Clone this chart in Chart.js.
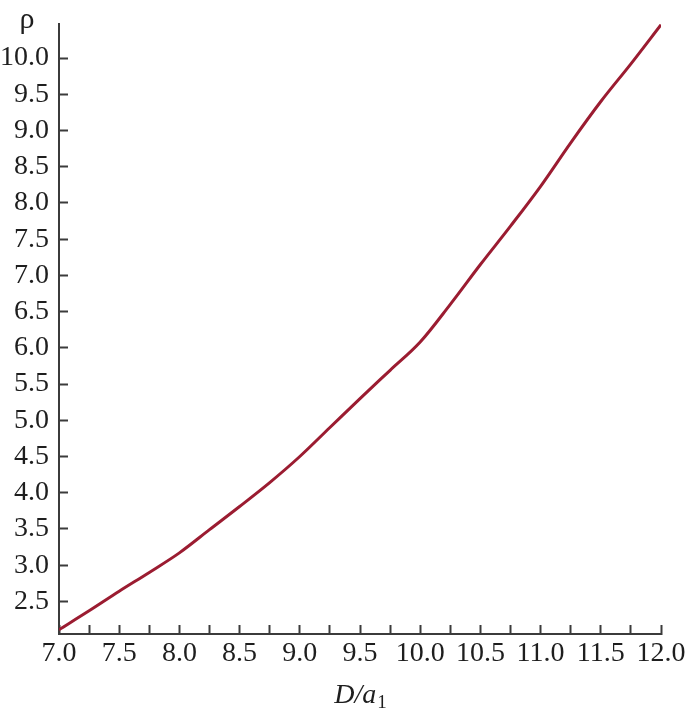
<!DOCTYPE html>
<html>
<head>
<meta charset="utf-8">
<script src="https://cdn.jsdelivr.net/npm/chart.js@4.4.1/dist/chart.umd.min.js"></script>
<style>
  html, body { margin: 0; padding: 0; background: #fff; }
  #wrap { width: 685px; height: 713px; }
</style>
</head>
<body>
<div id="wrap"><canvas id="chart"></canvas></div>
<script>
// values
const dRatio = [7.0, 7.25, 7.5, 7.75, 8.0, 8.25, 8.5, 8.75, 9.0, 9.25, 9.5,
  9.75, 10.0, 10.25, 10.5, 10.75, 11.0, 11.25, 11.5, 11.75, 12.0];
const rho = [2.11, 2.37, 2.64, 2.90, 3.17, 3.49, 3.81, 4.14, 4.50, 4.90, 5.30,
  5.69, 6.08, 6.60, 7.15, 7.68, 8.23, 8.83, 9.40, 9.92, 10.46];
const xTickLabels = ["7.0", "7.5", "8.0", "8.5", "9.0", "9.5", "10.0", "10.5", "11.0", "11.5", "12.0"];
const yTickLabels = ["2.5", "3.0", "3.5", "4.0", "4.5", "5.0", "5.5", "6.0", "6.5", "7.0", "7.5",
  "8.0", "8.5", "9.0", "9.5", "10.0"];

const axisColor = "#3b3b3b";
const textColor = "#1e1e1e";
const serif = "'Liberation Serif', 'Times New Roman', serif";

// axis titles: rho on top of the y axis, D/a1 below the x axis
const axisTitles = {
  id: "axisTitles",
  afterDraw(chart) {
    const c = chart.ctx;
    const area = chart.chartArea;
    c.save();
    c.fillStyle = textColor;
    c.textBaseline = "alphabetic";
    c.textAlign = "center";
    c.font = "30px " + serif;
    c.fillText("\u03C1", 27, 28);

    c.textAlign = "left";
    const main = "D/a";
    c.font = "italic 28px " + serif;
    const w1 = c.measureText(main).width;
    c.font = "19px " + serif;
    const w2 = c.measureText("1").width;
    const x0 = (area.left + area.right) / 2 - (w1 + w2) / 2;
    c.font = "italic 28px " + serif;
    c.fillText(main, x0, 703);
    c.font = "19px " + serif;
    c.fillText("1", x0 + w1 + 1, 708);
    c.restore();
  }
};

const ctx = document.getElementById("chart");

new Chart(ctx, {
  type: "line",
  data: {
    datasets: [
      {
        data: dRatio.map((d, i) => ({ x: d, y: rho[i] })),
        borderColor: "#9b1c31",
        borderWidth: 3,
        pointRadius: 0,
        tension: 0.4,
        cubicInterpolationMode: "monotone",
        fill: false,
      },
    ],
  },
  options: {
    animation: false,
    responsive: true,
    maintainAspectRatio: false,
    layout: { padding: { top: 24, right: 24, left: 0, bottom: 0 } },
    plugins: {
      legend: { display: false },
      tooltip: { enabled: false },
    },
    scales: {
      x: {
        type: "linear",
        min: 7,
        max: 12,
        afterFit: (s) => { s.height = 79; s.paddingLeft = 0; s.paddingRight = 0; },
        border: { display: true, color: axisColor, width: 2 },
        grid: {
          drawOnChartArea: false,
          drawTicks: true,
          tickLength: -9,
          tickWidth: 2,
          tickColor: axisColor,
        },
        ticks: {
          stepSize: 0.25,
          padding: 12,
          maxRotation: 0,
          autoSkip: false,
          color: textColor,
          font: { family: serif, size: 28 },
          callback: (v) => {
            const lbl = v.toFixed(1);
            return Number.isInteger(v * 2) && xTickLabels.includes(lbl) ? lbl : "";
          },
        },
      },
      y: {
        type: "linear",
        min: 2.05,
        max: 10.47,
        afterFit: (s) => { s.width = 59; s.paddingTop = 0; s.paddingBottom = 0; },
        border: { display: true, color: axisColor, width: 2 },
        grid: {
          drawOnChartArea: false,
          drawTicks: true,
          tickLength: -9,
          tickWidth: 2,
          tickColor: axisColor,
        },
        ticks: {
          stepSize: 0.5,
          includeBounds: false,
          padding: 19,
          autoSkip: false,
          color: textColor,
          font: { family: serif, size: 28 },
          callback: (v) => {
            const lbl = v.toFixed(1);
            return yTickLabels.includes(lbl) ? lbl : null;
          },
        },
      },
    },
  },
  plugins: [axisTitles],
});
</script>
</body>
</html>
